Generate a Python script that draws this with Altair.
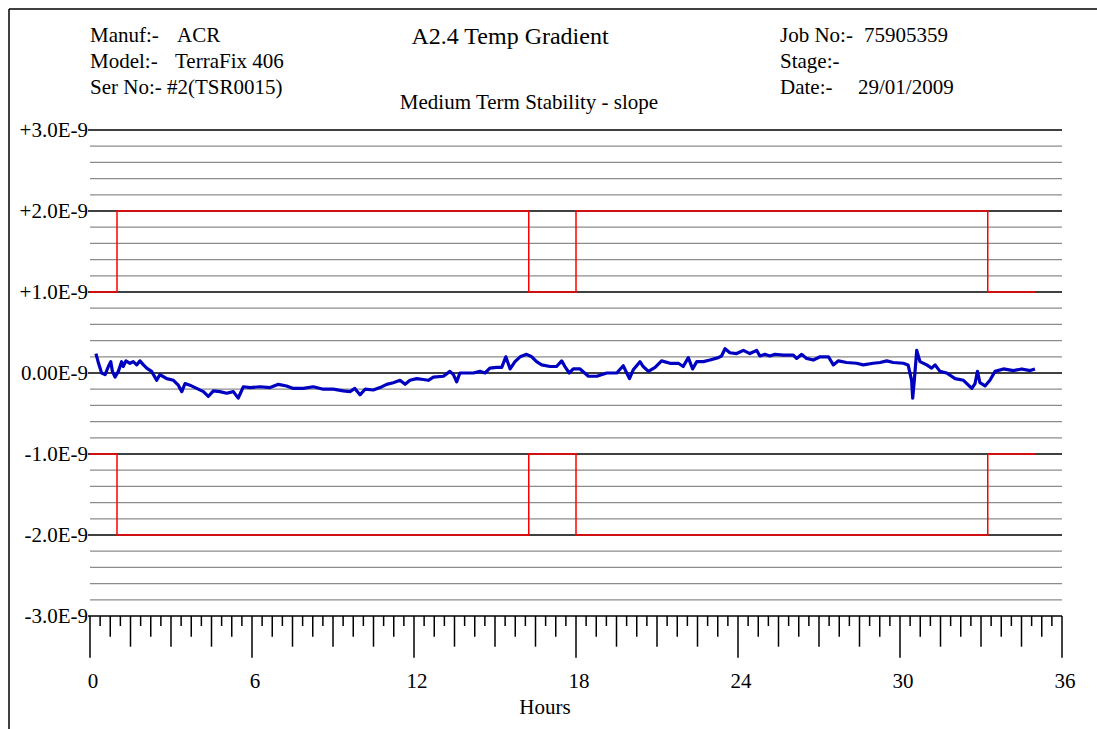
import altair as alt
import pandas as pd

# ---------------- data ----------------
hours = [0.22, 0.30, 0.43, 0.56, 0.68, 0.77, 0.83, 0.93, 1.05, 1.17, 1.23, 1.33, 1.48, 1.60, 1.73,
         1.85, 1.98, 2.10, 2.28, 2.47, 2.59, 2.84, 3.09, 3.27, 3.40, 3.52, 3.70, 3.95, 4.20, 4.38,
         4.57, 4.81, 5.06, 5.31, 5.49, 5.68, 5.93, 6.30, 6.67, 6.98, 7.28, 7.53, 7.90, 8.27, 8.64,
         9.01, 9.38, 9.63, 9.81, 10.00, 10.19, 10.49, 10.74, 10.99, 11.23, 11.48, 11.67, 11.85,
         12.10, 12.35, 12.53, 12.72, 13.09, 13.33, 13.46, 13.58, 13.70, 13.95, 14.20, 14.44, 14.63,
         14.81, 15.06, 15.25, 15.40, 15.56, 15.74, 15.93, 16.17, 16.36, 16.54, 16.73, 17.04, 17.28,
         17.47, 17.59, 17.75, 17.90, 18.15, 18.46, 18.77, 19.14, 19.51, 19.75, 19.98, 20.12, 20.37,
         20.49, 20.68, 20.93, 21.17, 21.48, 21.79, 21.97, 22.16, 22.32, 22.47, 22.72, 22.96, 23.27,
         23.39, 23.52, 23.70, 23.95, 24.20, 24.44, 24.69, 24.81, 25.00, 25.18, 25.37, 25.68, 26.05,
         26.17, 26.36, 26.54, 26.79, 27.04, 27.35, 27.53, 27.72, 28.02, 28.39, 28.64, 29.01, 29.26,
         29.51, 29.75, 30.12, 30.30, 30.43, 30.47, 30.53, 30.62, 30.74, 30.99, 31.17, 31.30, 31.48,
         31.73, 32.04, 32.35, 32.66, 32.78, 32.87, 32.96, 33.15, 33.33, 33.52, 33.83, 34.20, 34.51,
         34.82, 35.00]
slope = [0.24, 0.14, 0.00, -0.02, 0.08, 0.14, 0.02, -0.05, 0.02, 0.14, 0.08, 0.15, 0.12, 0.14, 0.10,
         0.15, 0.10, 0.06, 0.02, -0.09, -0.02, -0.07, -0.09, -0.15, -0.23, -0.13, -0.15, -0.19, -0.23, -0.29,
         -0.22, -0.23, -0.25, -0.23, -0.31, -0.17, -0.18, -0.17, -0.18, -0.14, -0.16, -0.19, -0.19, -0.17, -0.20,
         -0.20, -0.22, -0.23, -0.19, -0.27, -0.20, -0.21, -0.18, -0.14, -0.12, -0.09, -0.14, -0.09,
         -0.07, -0.08, -0.09, -0.05, -0.04, 0.02, -0.02, -0.11, 0.00, 0.00, 0.00, 0.02, 0.00,
         0.06, 0.07, 0.07, 0.20, 0.05, 0.14, 0.20, 0.23, 0.20, 0.14, 0.10, 0.08, 0.08,
         0.15, 0.08, 0.00, 0.05, 0.05, -0.04, -0.04, 0.00, 0.00, 0.09, -0.07, 0.04, 0.14,
         0.08, 0.02, 0.07, 0.15, 0.12, 0.12, 0.08, 0.19, 0.05, 0.14, 0.14, 0.16, 0.19,
         0.21, 0.30, 0.25, 0.24, 0.28, 0.24, 0.28, 0.21, 0.23, 0.21, 0.23, 0.22, 0.22,
         0.18, 0.23, 0.18, 0.16, 0.20, 0.20, 0.10, 0.15, 0.13, 0.12, 0.10, 0.12, 0.13,
         0.15, 0.13, 0.12, 0.10, -0.09, -0.31, -0.09, 0.28, 0.14, 0.10, 0.06, 0.10, 0.02,
         0.00, -0.07, -0.09, -0.19, -0.13, 0.02, -0.12, -0.16, -0.09, 0.02, 0.05, 0.03, 0.05,
         0.03, 0.05]

limit_hours = [0, 1, 1, 16.25, 16.25, 18, 18, 33.25, 33.25, 35]
upper_limit = [1, 1, 2, 2, 1, 1, 2, 2, 1, 1]
lower_limit = [-1, -1, -2, -2, -1, -1, -2, -2, -1, -1]

y_major = [-3, -2, -1, 0, 1, 2, 3]
y_labels = ["-3.0E-9", "-2.0E-9", "-1.0E-9", "0.00E-9", "+1.0E-9", "+2.0E-9", "+3.0E-9"]
x_label_vals = [0, 6, 12, 18, 24, 30, 36]
x_labels = ["0", "6", "12", "18", "24", "30", "36"]

header_left = [("Manuf:-", "ACR"), ("Model:-", "TerraFix 406"), ("Ser No:-", "#2(TSR0015)")]
header_right = [("Job No:-", "75905359"), ("Stage:-", ""), ("Date:-", "29/01/2009")]
title_text = "A2.4 Temp Gradient"
subtitle_text = "Medium Term Stability - slope"
x_title = "Hours"

# ---------------- layout ----------------
W, H = 972, 486
LEFT, TOP = 90, 130
TOTAL_W, TOTAL_H = 1097, 729
FONT = "Liberation Serif"
FS = 21
PX_PER_UNIT = H / 6.0

xs = alt.Scale(domain=[0, 36], nice=False, zero=False)
ys = alt.Scale(domain=[-3, 3], nice=False, zero=False)

dummy = pd.DataFrame({"d": [0]})

# grid
minor_vals = [round(-3 + 0.2 * i, 1) for i in range(31)]
minor_vals = [v for v in minor_vals if abs(v - round(v)) > 1e-6]
minor = alt.Chart(pd.DataFrame({"y": minor_vals})).mark_rule(color="#8c8c8c", strokeWidth=1.2).encode(
    y=alt.Y("y:Q", scale=ys, axis=None), x=alt.value(0), x2=alt.value(W))

major = alt.Chart(pd.DataFrame({"y": y_major})).mark_rule(color="black", strokeWidth=1.3).encode(
    y=alt.Y("y:Q", scale=ys, axis=None), x=alt.value(-2), x2=alt.value(W))

ylab = alt.Chart(pd.DataFrame({"y": y_major, "t": y_labels})).mark_text(
    align="right", baseline="middle", font=FONT, fontSize=FS, color="black", dy=1).encode(
    y=alt.Y("y:Q", scale=ys, axis=None), x=alt.value(-2), text="t:N")

xlab = alt.Chart(pd.DataFrame({"x": x_label_vals, "t": x_labels})).mark_text(
    align="center", baseline="middle", font=FONT, fontSize=FS, color="black", dx=3).encode(
    x=alt.X("x:Q", scale=xs, axis=None), y=alt.value(682 - TOP), text="t:N")

# limits
lim_rows = []
for i, (h, u, l) in enumerate(zip(limit_hours, upper_limit, lower_limit)):
    lim_rows.append({"h": h, "v": u, "s": "upper", "o": i})
    lim_rows.append({"h": h, "v": l, "s": "lower", "o": i})
limits = alt.Chart(pd.DataFrame(lim_rows)).mark_line(color="#ff0000", strokeWidth=1.5).encode(
    x=alt.X("h:Q", scale=xs, axis=None), y=alt.Y("v:Q", scale=ys, axis=None),
    detail="s:N", order="o:Q")

# data line
series = alt.Chart(pd.DataFrame({"h": hours, "v": slope, "o": range(len(hours))})).mark_line(
    color="#0000c0", strokeWidth=3.2, strokeJoin="round").encode(
    x=alt.X("h:Q", scale=xs, axis=None),
    y=alt.Y("v:Q", scale=ys, axis=None), order="o:Q")

# x ticks (ruler style)
tick_rows = []
for i in range(97):
    if i % 16 == 0:
        ln = 41.7
    elif i % 4 == 0:
        ln = 30.7
    elif i % 2 == 0:
        ln = 20.7
    else:
        ln = 10.0
    tick_rows.append({"x": i * 0.375, "y0": -3, "y1": -3 - ln / PX_PER_UNIT})
ticks = alt.Chart(pd.DataFrame(tick_rows)).mark_rule(color="black", strokeWidth=1.5).encode(
    x=alt.X("x:Q", scale=xs, axis=None), y=alt.Y("y0:Q", scale=ys, axis=None), y2="y1:Q")


def text(txt, px, py, size=FS, align="left"):
    return alt.Chart(pd.DataFrame({"t": [txt]})).mark_text(
        align=align, baseline="middle", font=FONT, fontSize=size, color="black").encode(
        x=alt.value(px - LEFT), y=alt.value(py - TOP), text="t:N")


texts = []
row_y = [36, 62, 88]
val_x_left = [177, 175, 167]
for (k, v), yy, vx in zip(header_left, row_y, val_x_left):
    texts.append(text(k, 90, yy))
    texts.append(text(v, vx, yy))
val_x_right = [864, 864, 858]
for (k, v), yy, vx in zip(header_right, row_y, val_x_right):
    texts.append(text(k, 780, yy))
    if v:
        texts.append(text(v, vx, yy))
texts.append(text(title_text, 510, 37, size=24, align="center"))
texts.append(text(subtitle_text, 529, 103, size=FS, align="center"))
texts.append(text(x_title, 545, 708, size=FS, align="center"))

# frame
frame_top = alt.Chart(dummy).mark_rule(color="black", strokeWidth=1.5).encode(
    x=alt.value(9 - LEFT), x2=alt.value(TOTAL_W - LEFT), y=alt.value(9 - TOP))
frame_left = alt.Chart(dummy).mark_rule(color="black", strokeWidth=1.5).encode(
    x=alt.value(9 - LEFT), y=alt.value(9 - TOP), y2=alt.value(TOTAL_H - TOP))

chart = alt.layer(minor, major, limits, ticks, series, ylab, xlab, *texts, frame_top, frame_left).properties(
    width=W, height=H,
    autosize=alt.AutoSizeParams(type="none"),
    padding={"left": LEFT, "top": TOP, "right": TOTAL_W - LEFT - W, "bottom": TOTAL_H - TOP - H},
    background="white",
).configure_view(stroke=None)

chart.save("out.html", embed_options={"renderer": "svg", "actions": False})
